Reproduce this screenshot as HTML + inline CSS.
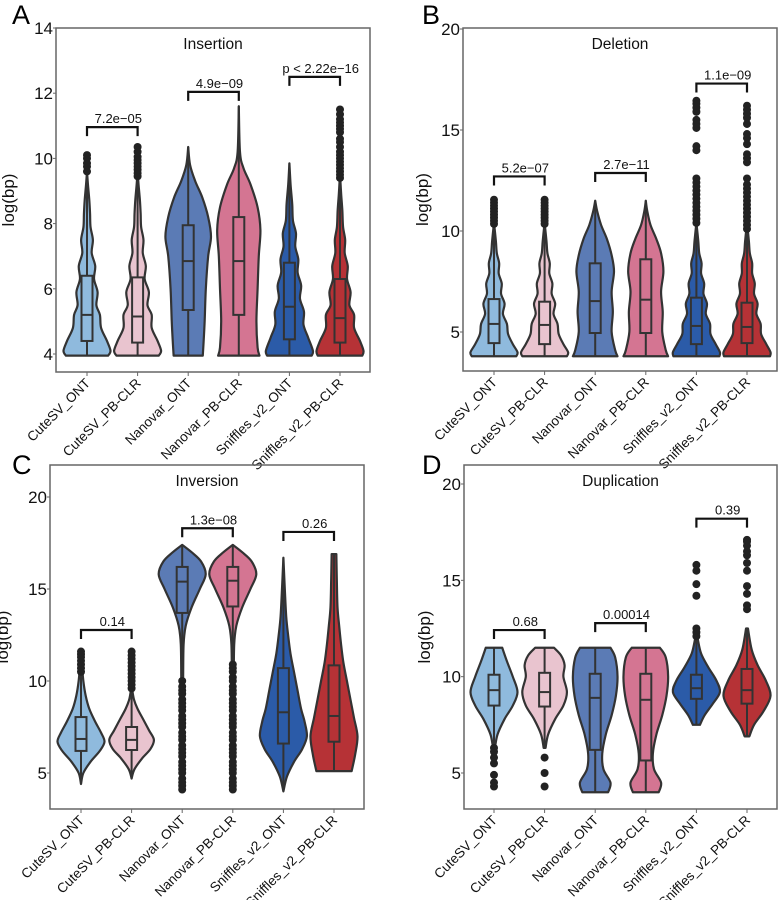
<!DOCTYPE html>
<html><head><meta charset="utf-8"><style>
html,body{margin:0;padding:0;background:#fff;}
svg{display:block;font-family:"Liberation Sans",Arial,sans-serif;}
</style></head><body>
<svg id="fig" width="778" height="900" viewBox="0 0 778 900" xmlns="http://www.w3.org/2000/svg"></svg>
<script>
const categories = ["CuteSV_ONT","CuteSV_PB-CLR","Nanovar_ONT","Nanovar_PB-CLR","Sniffles_v2_ONT","Sniffles_v2_PB-CLR"];
const colors = ["#8fbadd","#e9c4cf","#5b7bb5","#d47592","#2b5ba8","#b63236"];

// Insertion
const insProfiles = [
 [[3.95,0.9],[4.1,1],[4.4,0.85],[4.8,0.6],[5.2,0.55],[5.5,0.4],[5.9,0.45],[6.3,0.3],[6.7,0.35],[7.1,0.2],[7.5,0.25],[7.9,0.15],[8.3,0.13],[8.7,0.1],[9.2,0.04],[9.5,0.01]],
 [[3.95,0.9],[4.1,1],[4.4,0.85],[4.8,0.6],[5.2,0.6],[5.5,0.42],[5.9,0.48],[6.3,0.3],[6.7,0.35],[7.1,0.22],[7.5,0.25],[7.9,0.15],[8.3,0.13],[8.7,0.1],[9.2,0.04],[9.5,0.01]],
 [[3.95,0.62],[4.3,0.65],[5,0.7],[6,0.75],[7,0.85],[7.6,0.97],[8.2,0.85],[8.8,0.6],[9.3,0.3],[9.8,0.08],[10.35,0]],
 [[3.95,0.88],[4.2,0.8],[5,0.75],[6,0.8],[7,0.85],[7.8,0.92],[8.5,0.8],[9.2,0.5],[9.7,0.2],[10.2,0.05],[11.6,0]],
 [[3.95,0.95],[4.1,1],[4.5,0.8],[4.9,0.6],[5.3,0.62],[5.7,0.45],[6.1,0.5],[6.5,0.35],[6.9,0.38],[7.3,0.25],[7.7,0.28],[8.1,0.15],[8.6,0.12],[9.2,0.05],[9.85,0]],
 [[3.95,0.95],[4.1,1],[4.4,0.85],[4.8,0.6],[5.2,0.6],[5.5,0.4],[5.9,0.45],[6.3,0.3],[6.7,0.33],[7.1,0.2],[7.5,0.22],[7.9,0.13],[8.4,0.1],[8.9,0.05],[9.4,0.01]]
];
const insBoxes = [[3.95,4.4,5.2,6.4,9.5],[3.95,4.35,5.15,6.35,9.5],[3.95,5.35,6.85,7.95,10.35],[3.95,5.2,6.85,8.2,11.6],[3.95,4.45,5.45,6.8,9.85],[3.95,4.35,5.1,6.3,9.4]];
const insOutliers = [[9.6,9.75,9.85,10.0,10.1],[9.45,9.55,9.65,9.75,9.85,9.95,10.05,10.2,10.35],[],[],[],[9.4,9.5,9.6,9.7,9.8,9.9,10.0,10.1,10.2,10.35,10.5,10.6,10.8,10.9,11.0,11.1,11.2,11.35,11.5]];
const insBrackets = [[0,1,10.96,"7.2e−05"],[2,3,12.04,"4.9e−09"],[4,5,12.5,"p < 2.22e−16"]];
const insTicks = [4,6,8,10,12,14];

// Deletion
const delProfiles = [
 [[3.8,0.95],[4.0,1],[4.4,0.8],[4.9,0.6],[5.4,0.55],[5.9,0.38],[6.4,0.45],[6.9,0.3],[7.4,0.33],[7.9,0.2],[8.4,0.22],[8.9,0.12],[9.5,0.08],[10.3,0.01]],
 [[3.8,0.95],[4.0,1],[4.4,0.8],[4.9,0.6],[5.4,0.55],[5.9,0.38],[6.4,0.45],[6.9,0.3],[7.4,0.33],[7.9,0.2],[8.4,0.22],[8.9,0.12],[9.5,0.08],[10.3,0.01]],
 [[3.8,0.95],[4.1,0.85],[5,0.7],[6,0.75],[7,0.7],[8,0.8],[8.8,0.7],[9.6,0.5],[10.3,0.25],[11,0.08],[11.5,0]],
 [[3.8,0.95],[4.1,0.85],[5,0.7],[6,0.72],[7,0.65],[8,0.75],[8.9,0.65],[9.6,0.45],[10.3,0.2],[11,0.06],[11.5,0]],
 [[3.8,0.98],[4.0,1],[4.4,0.82],[4.9,0.6],[5.4,0.58],[5.9,0.4],[6.4,0.45],[6.9,0.3],[7.4,0.33],[7.9,0.2],[8.4,0.22],[8.9,0.12],[9.5,0.08],[10.3,0.01]],
 [[3.8,0.98],[4.0,1],[4.4,0.82],[4.9,0.6],[5.4,0.58],[5.9,0.4],[6.4,0.45],[6.9,0.3],[7.4,0.33],[7.9,0.22],[8.4,0.22],[8.9,0.12],[9.5,0.08],[10.3,0.01]]
];
const delBoxes = [[3.8,4.45,5.4,6.63,10.3],[3.8,4.4,5.35,6.5,10.3],[3.8,4.95,6.53,8.4,11.5],[3.8,4.95,6.6,8.6,11.5],[3.8,4.4,5.3,6.7,10.3],[3.8,4.45,5.25,6.45,10.3]];
const delOutliers = [[10.35,10.5,10.65,10.8,10.95,11.1,11.25,11.4,11.55],[10.35,10.5,10.65,10.8,10.95,11.1,11.25,11.4,11.55],[],[],[10.4,10.6,10.8,11.0,11.2,11.4,11.6,11.8,12.0,12.2,12.4,12.6,14.0,14.2,15.1,15.3,15.5,15.9,16.1,16.3,16.45],[10.1,10.3,10.5,10.7,10.9,11.1,11.3,11.5,11.7,11.9,12.1,12.3,12.6,13.4,13.6,13.8,14.3,14.6,14.8,15.3,15.6,15.8,16.0,16.2]];
const delBrackets = [[0,1,12.7,"5.2e−07"],[2,3,12.87,"2.7e−11"],[4,5,17.3,"1.1e−09"]];
const bigTicks = [5,10,15,20];

// Inversion
const invProfiles = [
 [[4.4,0],[5,0.1],[5.6,0.4],[6.2,0.8],[6.7,1],[7.2,0.85],[7.8,0.6],[8.5,0.35],[9.2,0.2],[10,0.1],[11,0.03]],
 [[4.7,0],[5.2,0.12],[5.8,0.45],[6.3,0.8],[6.8,0.95],[7.3,0.75],[7.9,0.5],[8.5,0.25],[9,0.1],[9.5,0.03]],
 [[10.2,0.04],[12,0.06],[13,0.15],[14,0.4],[15,0.75],[15.8,1],[16.5,0.8],[17,0.4],[17.4,0]],
 [[10.2,0.04],[12,0.06],[13,0.15],[14,0.4],[15,0.75],[15.8,1],[16.5,0.8],[17,0.4],[17.4,0]],
 [[4,0],[4.8,0.15],[5.6,0.45],[6.3,0.8],[7,1],[7.8,0.9],[8.5,0.75],[9.5,0.6],[10.5,0.45],[11.5,0.3],[12.5,0.2],[13.5,0.12],[15,0.06],[16.7,0]],
 [[5.1,0.75],[6,0.9],[7,1],[8,0.85],[9,0.7],[10,0.55],[11,0.4],[12,0.3],[13,0.22],[14,0.15],[15.5,0.12],[16.9,0.1]]
];
const invBoxes = [[4.4,6.2,6.85,8.04,11],[4.7,6.25,6.8,7.5,9.5],[10.2,13.7,15.4,16.2,17.4],[10.2,14.05,15.45,16.2,17.4],[4,6.6,8.3,10.7,16.7],[5.1,6.7,8.1,10.85,16.9]];
const invOutliers = [[10.5,10.7,10.9,11.1,11.3,11.45,11.6],[9.6,9.8,10,10.2,10.4,10.6,10.8,11,11.2,11.4,11.6],[4.1,4.3,4.5,4.7,5,5.2,5.4,5.6,5.9,6.1,6.3,6.5,6.8,7,7.2,7.5,7.7,7.9,8.1,8.4,8.6,8.8,9,9.3,9.5,9.7,10],[4.1,4.3,4.5,4.7,5,5.2,5.4,5.6,5.9,6.1,6.3,6.5,6.8,7,7.2,7.5,7.7,7.9,8.1,8.4,8.6,8.8,9,9.3,9.5,9.7,10,10.2,10.5,10.7,10.9],[],[]];
const invBrackets = [[0,1,12.77,"0.14"],[2,3,18.3,"1.3e−08"],[4,5,18.1,"0.26"]];

// Duplication
const dupProfiles = [
 [[6.3,0.04],[7,0.15],[7.8,0.45],[8.5,0.8],[9.2,1],[10,0.8],[10.8,0.55],[11.5,0.35]],
 [[6.3,0.04],[7,0.15],[7.8,0.45],[8.5,0.8],[9.2,0.95],[10,0.8],[10.6,0.85],[11.1,0.7],[11.5,0.4]],
 [[4,0.55],[4.5,0.65],[5.2,0.35],[6,0.3],[7,0.45],[8,0.7],[9,0.88],[10,0.95],[11,0.85],[11.5,0.65]],
 [[4,0.55],[4.5,0.65],[5.2,0.35],[6,0.3],[7,0.45],[8,0.7],[9,0.88],[10,0.95],[11,0.85],[11.5,0.6]],
 [[7.5,0.15],[8,0.35],[8.6,0.7],[9.2,1],[9.8,0.85],[10.5,0.5],[11.2,0.2],[12,0.05]],
 [[6.9,0.1],[7.5,0.3],[8.2,0.7],[9,1],[9.8,0.8],[10.6,0.45],[11.4,0.2],[12.5,0.04]]
];
const dupBoxes = [[6.3,8.5,9.3,10.1,11.5],[6.3,8.45,9.2,10.2,11.5],[4,6.2,8.9,10.15,11.5],[4,5.65,8.8,10.15,11.5],[7.5,8.85,9.4,10.1,12],[6.9,8.6,9.3,10.4,12.5]];
const dupOutliers = [[4.3,4.5,4.9,5.5,5.8,6.1,6.3],[4.3,5,5.8],[],[],[12.1,12.3,12.5,14.2,14.8,15.5,15.8],[13.5,13.7,14.3,14.7,15.5,15.9,16.3,16.5,16.8,17,17.1]];
const dupBrackets = [[0,1,12.42,"0.68"],[2,3,12.78,"0.00014"],[4,5,18.2,"0.39"]];

const NS="http://www.w3.org/2000/svg";
const svg=document.getElementById('fig');
function mk(tag,attrs,parent){const e=document.createElementNS(NS,tag);for(const k in attrs)e.setAttribute(k,attrs[k]);(parent||svg).appendChild(e);return e;}

function smoothPath(pts){
  let d="M"+pts[0][0]+","+pts[0][1];
  for(let i=0;i<pts.length-1;i++){
    const p0=pts[Math.max(0,i-1)],p1=pts[i],p2=pts[i+1],p3=pts[Math.min(pts.length-1,i+2)];
    const c1x=p1[0]+(p2[0]-p0[0])/6,c1y=p1[1]+(p2[1]-p0[1])/6;
    const c2x=p2[0]-(p3[0]-p1[0])/6,c2y=p2[1]-(p3[1]-p1[1])/6;
    d+=" C"+c1x.toFixed(2)+","+c1y.toFixed(2)+" "+c2x.toFixed(2)+","+c2y.toFixed(2)+" "+p2[0].toFixed(2)+","+p2[1].toFixed(2);
  }
  return d;
}

function panel(cfg){
  const g=mk('g',{});
  
  
  const {x0,x1,yTop,yBot,v0,p0,v1,p1}=cfg;
  const ys=v=>p0+(v-v0)*(p1-p0)/(v1-v0);
  const xs=i=>cfg.cx0+i*cfg.step;
  const HW=23.5;
  const L=mk('text',{x:cfg.letterX,y:cfg.letterY,'font-size':27,fill:'#000'},g);L.textContent=cfg.letter;
  
  const T=mk('text',{x:(x0+x1)/2,y:yTop+21,'font-size':15.5,'text-anchor':'middle',fill:'#111'},g);T.textContent=cfg.title;
  
  cfg.profiles.forEach((prof,i)=>{
    const cx=xs(i);
    const right=prof.map(p=>[cx+p[1]*HW,ys(p[0])]);
    const left=prof.slice().reverse().map(p=>[cx-p[1]*HW,ys(p[0])]);
    let d=smoothPath(right)+" L"+left[0][0].toFixed(2)+","+left[0][1].toFixed(2)+smoothPath(left).replace(/^M[^C]*/," ")+" Z";
    const v=mk('path',{d:d,fill:colors[i],stroke:'#333','stroke-width':2.2,'stroke-linejoin':'round'},g);
    
    
    const b=cfg.boxes[i];
    const wl=mk('line',{x1:cx,x2:cx,y1:ys(b[0]),y2:ys(b[4]),stroke:'#333','stroke-width':2},g);
    
    const r=mk('rect',{x:cx-5.5,y:ys(b[3]),width:11,height:ys(b[1])-ys(b[3]),fill:colors[i],stroke:'#333','stroke-width':2},g);
    
    const m=mk('line',{x1:cx-5.5,x2:cx+5.5,y1:ys(b[2]),y2:ys(b[2]),stroke:'#333','stroke-width':2},g);
    
    cfg.outliers[i].forEach(o=>{
      const c=mk('circle',{cx:cx,cy:ys(o),r:4,fill:'#222'},g);
      
    });
  });
  cfg.brackets.forEach(br=>{
    const xa=xs(br[0]),xb=xs(br[1]),y=ys(br[2]);
    const p=mk('path',{d:`M${xa},${y+9} L${xa},${y} L${xb},${y} L${xb},${y+9}`,fill:'none',stroke:'#111','stroke-width':2.2},g);
    
    const t=mk('text',{x:(xa+xb)/2+6,y:y-4,'font-size':13,'text-anchor':'middle',fill:'#111'},g);t.textContent=br[3];
    
  });
  const fr=mk('rect',{x:x0,y:yTop,width:x1-x0,height:yBot-yTop,fill:'none',stroke:'#666','stroke-width':1.5},g);
  
  cfg.ticks.forEach(tv=>{
    const y=ys(tv);
    const tl=mk('line',{x1:x0-3,x2:x0,y1:y,y2:y,stroke:'#666','stroke-width':1},g);
    
    const t=mk('text',{x:x0-3,y:y+6,'font-size':17,'text-anchor':'end',fill:'#111'},g);t.textContent=tv;
    
  });
  categories.forEach((c,i)=>{
    const x=xs(i);
    const tl=mk('line',{x1:x,x2:x,y1:yBot,y2:yBot+4,stroke:'#666','stroke-width':1},g);
    
    const t=mk('text',{x:x+4,y:yBot+12,'font-size':13.5,'text-anchor':'end',fill:'#111',transform:`rotate(-45 ${x+4} ${yBot+12})`},g);t.textContent=c;
    
  });
  const yl=mk('text',{x:cfg.ylabX,y:(yTop+yBot)/2,'font-size':17,'text-anchor':'middle',fill:'#111',transform:`rotate(-90 ${cfg.ylabX} ${(yTop+yBot)/2})`},g);yl.textContent='log(bp)';
  
}

panel({id:'insertion',letter:'A',title:'Insertion',letterX:12,letterY:24,x0:56,x1:370,yTop:28,yBot:372,v0:4,p0:354,v1:14,p1:28,cx0:87,step:50.6,ylabX:14,
  profiles:insProfiles,boxes:insBoxes,outliers:insOutliers,brackets:insBrackets,ticks:insTicks});
panel({id:'deletion',letter:'B',title:'Deletion',letterX:422,letterY:24,x0:463,x1:777,yTop:28,yBot:371,v0:5,p0:332,v1:20,p1:29,cx0:494,step:50.6,ylabX:428,
  profiles:delProfiles,boxes:delBoxes,outliers:delOutliers,brackets:delBrackets,ticks:bigTicks});
panel({id:'inversion',letter:'C',title:'Inversion',letterX:12,letterY:474,x0:50,x1:364,yTop:465,yBot:809,v0:5,p0:773,v1:20,p1:497,cx0:81,step:50.6,ylabX:8,
  profiles:invProfiles,boxes:invBoxes,outliers:invOutliers,brackets:invBrackets,ticks:bigTicks});
panel({id:'duplication',letter:'D',title:'Duplication',letterX:422,letterY:474,x0:464,x1:777,yTop:465,yBot:809,v0:5,p0:773,v1:20,p1:484,cx0:494,step:50.6,ylabX:430,
  profiles:dupProfiles,boxes:dupBoxes,outliers:dupOutliers,brackets:dupBrackets,ticks:bigTicks});
</script>
</body></html>
